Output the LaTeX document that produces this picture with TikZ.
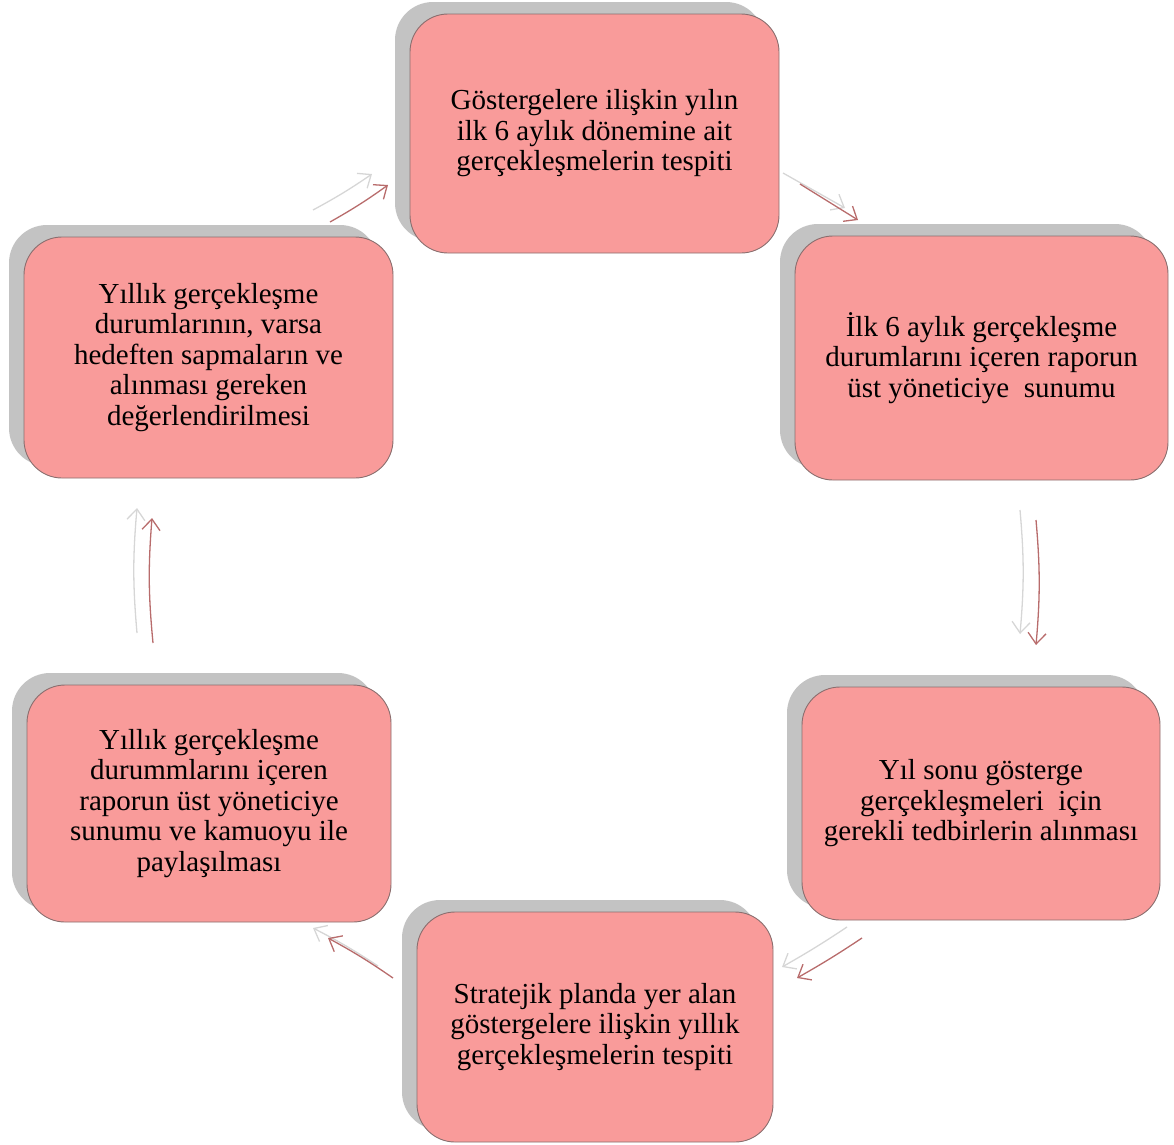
\documentclass[tikz,border=0pt]{standalone}
\usepackage{fontspec}
\setmainfont{Liberation Serif}
\usetikzlibrary{arrows.meta,shadows}
\definecolor{boxfill}{HTML}{F99B9A}
\definecolor{boxline}{HTML}{8A6E6E}
\definecolor{shadowgray}{HTML}{C3C3C3}
\definecolor{arrowred}{HTML}{B86C6C}
\definecolor{arrowgray}{HTML}{D6D6D6}
\tikzset{
  stepbox/.style={draw=boxline, line width=0.9pt, fill=boxfill, rounded corners=38pt,
    align=center, inner sep=0pt, font=\fontsize{29}{30.5}\selectfont,
    general shadow={shadow xshift=-15pt, shadow yshift=12pt, fill=shadowgray, draw=none}},
  redarrow/.style={draw=arrowred, line width=1.3pt, -{Straight Barb[length=11pt,width=18pt,line width=1.3pt]}},
  grayarrow/.style={draw=arrowgray, line width=1.3pt, -{Straight Barb[length=11pt,width=18pt,line width=1.3pt]}}
}
\begin{document}
\begin{tikzpicture}[x=1pt,y=-1pt]
\useasboundingbox (0,0) rectangle (1174,1144);
\node[stepbox, minimum width=369pt, minimum height=239pt] (A) at (594.5,133.5)
  {Göstergelere ilişkin yılın\\ilk 6 aylık dönemine ait\\gerçekleşmelerin tespiti};
\node[stepbox, minimum width=373pt, minimum height=244pt] (B) at (981.5,358)
  {İlk 6 aylık gerçekleşme\\durumlarını içeren raporun\\üst yöneticiye\ \ sunumu};
\node[stepbox, minimum width=358pt, minimum height=233pt] (C) at (981,803.5)
  {Yıl sonu gösterge\\gerçekleşmeleri\ \ için\\gerekli tedbirlerin alınması};
\node[stepbox, minimum width=356pt, minimum height=230pt] (D) at (595,1027)
  {Stratejik planda yer alan\\göstergelere ilişkin yıllık\\gerçekleşmelerin tespiti};
\node[stepbox, minimum width=364pt, minimum height=237pt] (E) at (209,803.5)
  {Yıllık gerçekleşme\\durummlarını içeren\\raporun üst yöneticiye\\sunumu ve kamuoyu ile\\paylaşılması};
\node[stepbox, minimum width=369pt, minimum height=241pt] (F) at (208.5,357.5)
  {Yıllık gerçekleşme\\durumlarının, varsa\\hedeften sapmaların ve\\alınması gereken\\değerlendirilmesi};
% arrow end points
\coordinate (abg1) at (783,173); \coordinate (abg2) at (845,208);
\coordinate (abr1) at (800,184); \coordinate (abr2) at (858,220);
\coordinate (bcg1) at (1020,510); \coordinate (bcg2) at (1020,634);
\coordinate (bcr1) at (1036,520); \coordinate (bcr2) at (1036,645);
\coordinate (cdg1) at (847,927); \coordinate (cdg2) at (782,967);
\coordinate (cdr1) at (862,938); \coordinate (cdr2) at (797,978);
\coordinate (deg1) at (378,966); \coordinate (deg2) at (313,928);
\coordinate (der1) at (393,978); \coordinate (der2) at (328,938);
\coordinate (efg1) at (137,633); \coordinate (efg2) at (137,508);
\coordinate (efr1) at (153,643); \coordinate (efr2) at (152,518);
\coordinate (fag1) at (313,210); \coordinate (fag2) at (372,174);
\coordinate (far1) at (330,222); \coordinate (far2) at (388,185);
\draw[grayarrow] (abg1) -- (abg2);
\draw[redarrow] (abr1) -- (abr2);
\draw[grayarrow] (bcg1) to[bend left=5] (bcg2);
\draw[redarrow] (bcr1) to[bend left=5] (bcr2);
\draw[grayarrow] (cdg1) to[bend left=2] (cdg2);
\draw[redarrow] (cdr1) to[bend left=2] (cdr2);
\draw[grayarrow] (deg1) to[bend right=3] (deg2);
\draw[redarrow] (der1) to[bend right=3] (der2);
\draw[grayarrow] (efg1) to[bend left=5] (efg2);
\draw[redarrow] (efr1) to[bend left=5] (efr2);
\draw[grayarrow] (fag1) to[bend right=3] (fag2);
\draw[redarrow] (far1) to[bend right=3] (far2);
\end{tikzpicture}
\end{document}
